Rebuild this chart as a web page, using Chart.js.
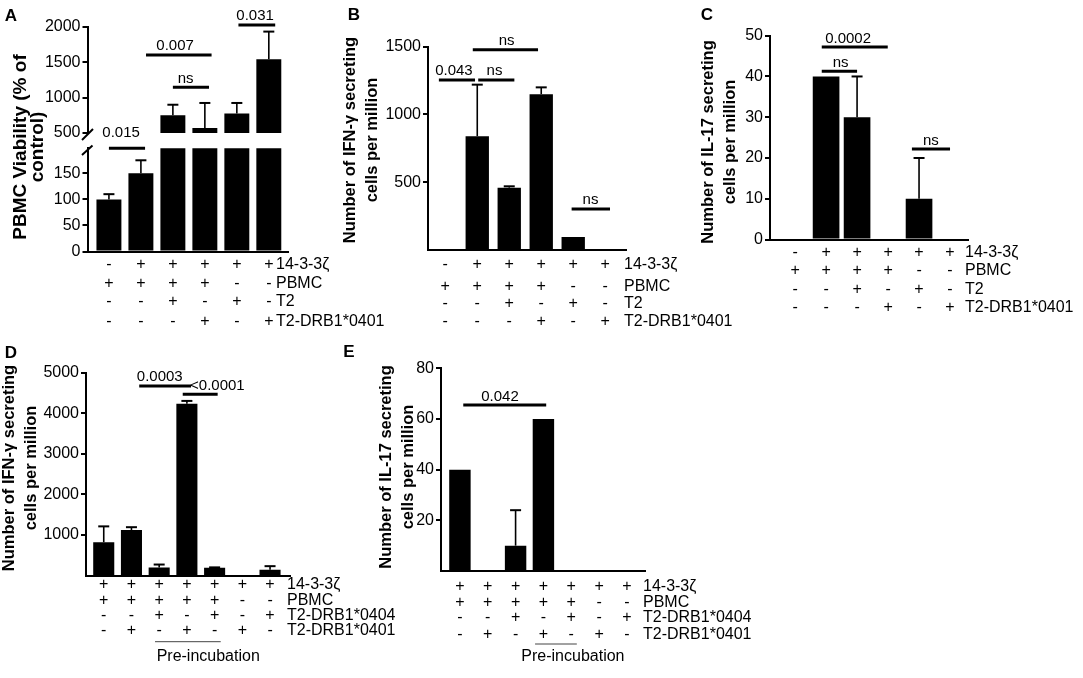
<!DOCTYPE html>
<html><head><meta charset="utf-8">
<script src="https://cdn.jsdelivr.net/npm/chart.js@4.4.1/dist/chart.umd.min.js"></script>
<style>
html,body{margin:0;padding:0;background:#fff;}
#wrap{position:relative;width:1083px;height:678px;overflow:hidden;background:#fff;}
#wrap canvas{position:absolute;left:0;top:0;}
</style></head>
<body><div id="wrap">
<canvas id="cA1" width="1083" height="678"></canvas>
<canvas id="cA2" width="1083" height="678"></canvas>
<canvas id="cB" width="1083" height="678"></canvas>
<canvas id="cC" width="1083" height="678"></canvas>
<canvas id="cD" width="1083" height="678"></canvas>
<canvas id="cE" width="1083" height="678"></canvas>
</div>
<script>
// ---------------- DATA ----------------
// condition table rows (categories) for panels A, B, C
const rowLabelsABC = ['14-3-3ζ', 'PBMC', 'T2', 'T2-DRB1*0401'];
const condABC_1433 = ['-', '+', '+', '+', '+', '+'];
const condABC_PBMC = ['+', '+', '+', '+', '-', '-'];
const condABC_T2 = ['-', '-', '+', '-', '+', '-'];
const condABC_DRB0401 = ['-', '-', '-', '+', '-', '+'];
// condition table rows (categories) for panels D, E
const rowLabelsDE = ['14-3-3ζ', 'PBMC', 'T2-DRB1*0404', 'T2-DRB1*0401'];
const condDE_1433 = ['+', '+', '+', '+', '+', '+', '+'];
const condDE_PBMC = ['+', '+', '+', '+', '+', '-', '-'];
const condDE_DRB0404 = ['-', '-', '+', '-', '+', '-', '+'];
const condDE_DRB0401 = ['-', '+', '-', '+', '-', '+', '-'];

// series values and upper error
const viabilityA = [100, 150, 750, 570, 775, 1545];
const viabilityErrA = [10, 25, 150, 355, 150, 390];
const ifngB = [0, 840, 460, 1150, 95, 0];
const ifngErrB = [0, 380, 10, 50, 0, 0];
const il17C = [0, 40, 30, 0, 10, 0];
const il17ErrC = [0, 0, 10, 0, 10, 0];
const ifngD = [820, 1120, 200, 4230, 190, 0, 140];
const ifngErrD = [390, 70, 70, 70, 10, 0, 90];
const il17E = [40, 0, 10, 60, 0, 0, 0];
const il17ErrE = [0, 0, 14, 0, 0, 0, 0];

// tick labels
const ticksA_upper = [500, 1000, 1500, 2000];
const ticksA_lower = [0, 50, 100, 150];
const ticksB = [500, 1000, 1500];
const ticksC = [0, 10, 20, 30, 40, 50];
const ticksD = [1000, 2000, 3000, 4000, 5000];
const ticksE = [20, 40, 60, 80];

// significance comparisons: [from bar, to bar, level (axis units), p label, label position (bar units)]
const sigA_upper = [[1.16, 3.21, 1605, '0.007', 2.07], [2.0, 3.13, 1147, 'ns', 2.4], [4.05, 5.2, 2030, '0.031', 4.57]];
const sigA_lower = [[0.0, 1.13, 198, '0.015', 0.38]];
const sigB = [[-0.2, 0.93, 1255, '0.043', 0.27], [1.03, 2.16, 1255, 'ns', 1.54], [0.86, 2.9, 1477, 'ns', 1.92], [3.95, 5.15, 303, 'ns', 4.54]];
const sigC = [[0.86, 2.99, 47.2, '0.0002', 1.71], [0.86, 2.0, 41.3, 'ns', 1.47], [3.77, 5.0, 22.2, 'ns', 4.38]];
const sigD = [[1.28, 3.15, 4668, '0.0003', 2.02], [2.85, 4.11, 4464, '<0.0001', 4.1]];
const sigE = [[0.12, 3.1, 65.5, '0.042', 1.44]];

// ---------------- LAYOUT / STYLE ----------------
const W = 1083, H = 678;
const FONT = "'Liberation Sans', Arial, Helvetica, sans-serif";
const YW = 55; // y-scale box width

const tableABC = [condABC_1433, condABC_PBMC, condABC_T2, condABC_DRB0401];
const tableDE = [condDE_1433, condDE_PBMC, condDE_DRB0404, condDE_DRB0401];

const panels = [
  { id: 'cA1', area: [87.5, 27, 288, 133], x: [-0.67, 5.6], y: [500, 2000], ticks: ticksA_upper,
    values: viabilityA, errs: viabilityErrA, barPct: 0.78, sig: sigA_upper, xBorder: false },
  { id: 'cA2', area: [87.5, 148.3, 288, 251.5], x: [-0.67, 5.6], y: [0, 198], ticks: ticksA_lower,
    values: viabilityA, errs: viabilityErrA, barPct: 0.78, sig: sigA_lower, sigGap: 11, xBorder: true,
    table: { rows: tableABC, labels: rowLabelsABC, rowY: [265, 283.3, 301.7, 321.7], labelX: 276 },
    title: { lines: ['PBMC Viability (% of', 'control)'], xs: [21, 38], y: 147, size: 19 },
    letter: { t: 'A', x: 11, y: 16 }, breakMarks: true },
  { id: 'cB', area: [428, 46.7, 626, 250], x: [-0.54, 5.65], y: [0, 1500], ticks: ticksB,
    values: ifngB, errs: ifngErrB, barPct: 0.73, sig: sigB, xBorder: true,
    table: { rows: tableABC, labels: rowLabelsABC, rowY: [265, 287, 304, 321.7], labelX: 624 },
    title: { lines: ['Number of IFN-γ secreting', 'cells per million'], xs: [350, 372], y: 140, size: 16.5 },
    letter: { t: 'B', x: 354, y: 15 } },
  { id: 'cC', area: [770, 35.7, 968, 239.5], x: [-0.81, 5.58], y: [0, 50], ticks: ticksC,
    values: il17C, errs: il17ErrC, barPct: 0.86, sig: sigC, xBorder: true,
    table: { rows: tableABC, labels: rowLabelsABC, rowY: [253, 271, 289.3, 308], labelX: 965 },
    title: { lines: ['Number of IL-17 secreting', 'cells per million'], xs: [708, 730], y: 142, size: 16.5 },
    letter: { t: 'C', x: 707, y: 15 } },
  { id: 'cD', area: [86, 372.5, 290, 575.5], x: [-0.64, 6.72], y: [0, 5000], ticks: ticksD,
    values: ifngD, errs: ifngErrD, barPct: 0.76, sig: sigD, xBorder: true,
    table: { rows: tableDE, labels: rowLabelsDE, rowY: [585, 600.7, 615.5, 631], labelX: 287 },
    pre: { from: 1.85, to: 4.22, lineY: 641.7, at: 3.77, textY: 656.7 },
    title: { lines: ['Number of IFN-γ secreting', 'cells per million'], xs: [9, 31], y: 468, size: 16.5 },
    letter: { t: 'D', x: 11, y: 353 } },
  { id: 'cE', area: [441, 368.3, 645, 571], x: [-0.68, 6.65], y: [0, 80], ticks: ticksE,
    values: il17E, errs: il17ErrE, barPct: 0.77, sig: sigE, xBorder: true,
    table: { rows: tableDE, labels: rowLabelsDE, rowY: [587, 603, 617.7, 635], labelX: 643 },
    pre: { from: 2.7, to: 4.2, lineY: 644, at: 4.06, textY: 657 },
    title: { lines: ['Number of IL-17 secreting', 'cells per million'], xs: [386, 408], y: 467, size: 16.5 },
    letter: { t: 'E', x: 349, y: 352 } }
];
const cfgById = {};
panels.forEach(p => cfgById[p.id] = p);

function line(ctx, x1, y1, x2, y2, w, col) {
  ctx.save(); ctx.beginPath(); ctx.strokeStyle = col || '#000'; ctx.lineWidth = w;
  ctx.moveTo(x1, y1); ctx.lineTo(x2, y2); ctx.stroke(); ctx.restore();
}
function text(ctx, t, x, y, size, bold, align, base) {
  ctx.save(); ctx.fillStyle = '#000';
  ctx.font = (bold ? 'bold ' : '') + size + 'px ' + FONT;
  ctx.textAlign = align || 'center'; ctx.textBaseline = base || 'middle';
  ctx.fillText(t, x, y); ctx.restore();
}

const decoPlugin = {
  id: 'panelDeco',
  afterDatasetsDraw(chart) {
    const p = cfgById[chart.canvas.id]; if (!p) return;
    const ctx = chart.ctx, xs = chart.scales.x, ys = chart.scales.y;
    // error bars (upper only)
    p.values.forEach((v, i) => {
      const e = p.errs[i];
      if (!e) return;
      if (v < ys.min || v > ys.max || v + e > ys.max * 1.05) return;
      const px = xs.getPixelForValue(i);
      const y0 = ys.getPixelForValue(v), y1 = ys.getPixelForValue(v + e);
      line(ctx, px, y0, px, y1, 1.6);
      line(ctx, px - 5.5, y1, px + 5.5, y1, 2);
    });
  },
  afterDraw(chart) {
    const p = cfgById[chart.canvas.id]; if (!p) return;
    const ctx = chart.ctx, xs = chart.scales.x, ys = chart.scales.y, ca = chart.chartArea;
    // significance bars
    (p.sig || []).forEach(s => {
      const px1 = xs.getPixelForValue(s[0]), px2 = xs.getPixelForValue(s[1]);
      const py = ys.getPixelForValue(s[2]);
      line(ctx, px1, py, px2, py, 3);
      text(ctx, s[3], xs.getPixelForValue(s[4]), py - (p.sigGap || 4.5), 15, false, 'center', 'alphabetic');
    });
    // condition table
    if (p.table) {
      p.table.rows.forEach((row, r) => {
        const y = p.table.rowY[r];
        row.forEach((sgn, i) => text(ctx, sgn, xs.getPixelForValue(i), y, 16, false, 'center', 'middle'));
        text(ctx, p.table.labels[r], p.table.labelX, y, 16, false, 'left', 'middle');
      });
    }
    if (p.pre) {
      line(ctx, xs.getPixelForValue(p.pre.from), p.pre.lineY, xs.getPixelForValue(p.pre.to), p.pre.lineY, 1, '#444');
      text(ctx, 'Pre-incubation', xs.getPixelForValue(p.pre.at), p.pre.textY, 16, false, 'center', 'middle');
    }
    // y-axis title
    if (p.title) {
      p.title.lines.forEach((ln, k) => {
        ctx.save(); ctx.translate(p.title.xs[k], p.title.y); ctx.rotate(-Math.PI / 2);
        text(ctx, ln, 0, 0, p.title.size, true, 'center', 'middle');
        ctx.restore();
      });
    }
    if (p.letter) text(ctx, p.letter.t, p.letter.x, p.letter.y, 17, true, 'center', 'middle');
    // axis break marks
    if (p.breakMarks) {
      const ax = ca.left;
      line(ctx, ax - 5.5, 140, ax + 5.5, 129, 2);
      line(ctx, ax - 5.5, 155, ax + 5, 145.5, 2);
    }
  }
};

panels.forEach(p => {
  const [L, T, R, B] = p.area;
  new Chart(document.getElementById(p.id), {
    type: 'bar',
    data: {
      datasets: [{
        data: p.values.map((v, i) => ({ x: i, y: v })),
        backgroundColor: '#000', borderWidth: 0,
        barPercentage: p.barPct, categoryPercentage: 1, clip: 0
      }]
    },
    options: {
      responsive: false, animation: false,
      layout: { padding: { left: L - YW, top: T, right: W - R, bottom: H - B } },
      plugins: { legend: { display: false }, tooltip: { enabled: false } },
      scales: {
        x: {
          type: 'linear', min: p.x[0], max: p.x[1], offset: false,
          grid: { display: false, offset: false }, ticks: { display: false },
          border: { display: p.xBorder, color: '#000', width: 2 },
          afterFit(s) { s.height = 0; }
        },
        y: {
          type: 'linear', min: p.y[0], max: p.y[1],
          afterBuildTicks(s) { s.ticks = p.ticks.map(v => ({ value: v })); },
          grid: { display: true, drawOnChartArea: false, drawTicks: true, tickLength: 5, color: '#000', lineWidth: 2 },
          border: { display: true, color: '#000', width: 2 },
          ticks: { color: '#000', padding: 2, font: { family: FONT, size: 16 }, callback: v => String(v) },
          afterFit(s) { s.width = YW; }
        }
      }
    },
    plugins: [decoPlugin]
  });
});
</script>
</body></html>
